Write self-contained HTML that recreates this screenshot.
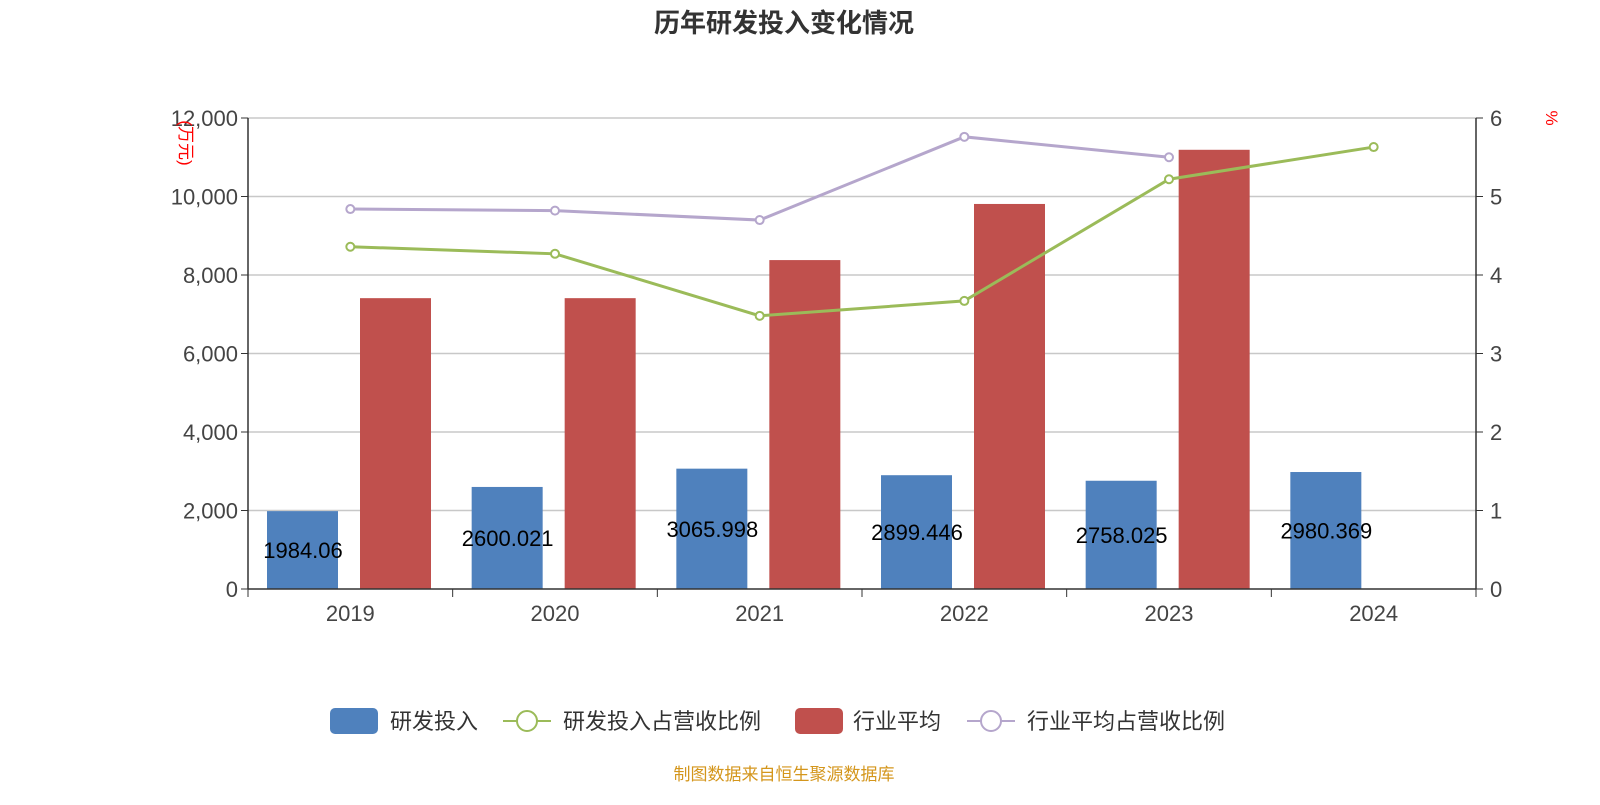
<!DOCTYPE html>
<html><head><meta charset="utf-8">
<style>
body{margin:0;background:#fff;}
svg text{font-family:"Liberation Sans","Noto Sans CJK SC",sans-serif;}
</style></head>
<body>
<svg id="chart" width="1600" height="800" xmlns="http://www.w3.org/2000/svg">
<text x="784" y="32" text-anchor="middle" font-size="26" font-weight="bold" fill="#333">历年研发投入变化情况</text>
<g id="grid"></g>
<g id="bars"></g>
<g id="lines"></g>
<g id="axes"></g>
<text transform="translate(180,143) rotate(90)" text-anchor="middle" font-size="17" fill="#f00">(万元)</text>
<text transform="translate(1546,118) rotate(90)" text-anchor="middle" font-size="17" fill="#f00">%</text>
<g font-size="22" fill="#333">
 <g><rect x="330" y="708" width="48" height="26" rx="5" fill="#4f81bd"/><text x="390" y="729">研发投入</text></g>
 <g><line x1="503" y1="721" x2="551" y2="721" stroke="#9bbb59" stroke-width="2"/><circle cx="527" cy="721" r="10" fill="#fff" stroke="#9bbb59" stroke-width="2"/><text x="563" y="729">研发投入占营收比例</text></g>
 <g><rect x="795" y="708" width="48" height="26" rx="5" fill="#c0504d"/><text x="853" y="729">行业平均</text></g>
 <g><line x1="967" y1="721" x2="1015" y2="721" stroke="#b5a6cc" stroke-width="2"/><circle cx="991" cy="721" r="10" fill="#fff" stroke="#b5a6cc" stroke-width="2"/><text x="1027" y="729">行业平均占营收比例</text></g>
</g>
<text x="784" y="780" text-anchor="middle" font-size="17" fill="#d4961c">制图数据来自恒生聚源数据库</text>
</svg>
<script>
const categories=["2019","2020","2021","2022","2023","2024"];
const rdValues=[1984.06,2600.021,3065.998,2899.446,2758.025,2980.369];
const industryValues=[7410,7410,8380,9810,11190,null];
const rdRatio=[4.36,4.27,3.48,3.67,5.22,5.63];
const industryRatio=[4.84,4.82,4.70,5.76,5.50,null];
const leftTicks=[0,2000,4000,6000,8000,10000,12000];
const rightTicks=[0,1,2,3,4,5,6];

const NS="http://www.w3.org/2000/svg";
const L=248,R=1476,T=118,B=589;
const bw=(R-L)/categories.length;
const yL=v=>B-(v/12000)*(B-T);
const yR=v=>B-(v/6)*(B-T);
function mk(tag,attrs,parent,text){const e=document.createElementNS(NS,tag);for(const k in attrs)e.setAttribute(k,attrs[k]);if(text!==undefined)e.textContent=text;document.getElementById(parent).appendChild(e);return e;}

leftTicks.forEach((t,i)=>{
 const y=yL(t);
 if(t>0){const g=mk('line',{x1:L,x2:R,y1:y,y2:y,stroke:'#c8c8c8','stroke-width':1.5},'grid');
 
 }
 const tk=mk('line',{x1:L-7,x2:L,y1:y,y2:y,stroke:'#333'},'axes');
 
 
 const lb=mk('text',{x:L-10,y:y+8,'text-anchor':'end','font-size':22,fill:'#444'},'axes',t.toLocaleString('en-US'));
 
 
});
rightTicks.forEach(t=>{
 const y=yR(t);
 const tk=mk('line',{x1:R,x2:R+7,y1:y,y2:y,stroke:'#333'},'axes');
 
 
 const lb=mk('text',{x:R+14,y:y+8,'font-size':22,fill:'#444'},'axes',String(t));
 
 
});
let a=mk('line',{x1:L,x2:L,y1:T,y2:B,stroke:'#333','stroke-width':1.5},'axes');


a=mk('line',{x1:R,x2:R,y1:T,y2:B,stroke:'#333','stroke-width':1.5},'axes');


a=mk('line',{x1:L,x2:R,y1:B,y2:B,stroke:'#333','stroke-width':1.5},'axes');


for(let i=0;i<=categories.length;i++){
 const x=L+i*bw;
 const tk=mk('line',{x1:x,x2:x,y1:B,y2:B+8,stroke:'#333'},'axes');
 
 
}
categories.forEach((c,i)=>{
 const x0=L+i*bw;
 const lb=mk('text',{x:x0+bw/2,y:B+32,'text-anchor':'middle','font-size':22,fill:'#444'},'axes',c);
 
 
 const v=rdValues[i];
 const b=mk('rect',{x:x0+19,y:yL(v),width:71,height:B-yL(v),fill:'#4f81bd'},'bars');
 
 
 const t=mk('text',{x:x0+55,y:(yL(v)+B)/2+8,'text-anchor':'middle','font-size':22,fill:'#000'},'bars',String(v));
 
 
 const iv=industryValues[i];
 if(iv!=null){
  const r=mk('rect',{x:x0+112,y:yL(iv),width:71,height:B-yL(iv),fill:'#c0504d'},'bars');
  
  
 }
});
function drawLine(vals,color,name){
 const pts=[];vals.forEach((v,i)=>{if(v!=null)pts.push([L+i*bw+bw/2,yR(v)]);});
 const p=mk('polyline',{points:pts.map(p=>p.join(',')).join(' '),fill:'none',stroke:color,'stroke-width':3},'lines');
 
 
 pts.forEach(q=>{const c=mk('circle',{cx:q[0],cy:q[1],r:4,fill:'#fff',stroke:color,'stroke-width':2},'lines');
 
 });
}
drawLine(industryRatio,'#b5a6cc','industry-ratio');
drawLine(rdRatio,'#9bbb59','rd-ratio');
</script>
</body></html>
